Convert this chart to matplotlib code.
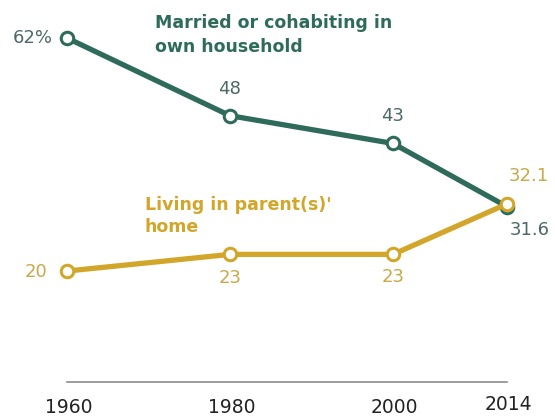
import matplotlib.pyplot as plt

years = [1960, 1980, 2000, 2014]
married = [62, 48, 43, 31.6]
parents = [20, 23, 23, 32.1]
year_labels = ['1960', '1980', '2000', '2014']

verde = '#2f6b5b'
verde_txt = '#4c6966'
ouro = '#d2a62a'
ouro_txt = '#c8a849'


def rotulo(v, primeiro=False):
    txt = f'{v:g}'
    return txt + '%' if primeiro else txt


fig = plt.figure(figsize=(5.55, 4.19), dpi=100)
ax = fig.add_axes([67 / 555, 37 / 419, 440 / 555, 344 / 419])
ax.set_xlim(1960, 2014)
ax.set_ylim(0, 62)
ax.axis('off')

# linha de base
ax.plot([years[0], years[-1]], [0, 0], color='#8c8c8c', lw=1.2, clip_on=False)

for serie, cor in [(married, verde), (parents, ouro)]:
    ax.plot(years, serie, color=cor, lw=3.8, marker='o', ms=9,
            mfc='white', mec=cor, mew=2.2, clip_on=False, zorder=3)

# valores da serie verde
offs_verde = [(-10, 0, 'right', 'center'), (0, 19, 'center', 'center'),
              (0, 20, 'center', 'center'), (16, -17, 'center', 'center')]
for i, (x, y) in enumerate(zip(years, married)):
    dx, dy, ha, va = offs_verde[i]
    ax.annotate(rotulo(y, i == 0), (x, y), xytext=(dx, dy), textcoords='offset points',
                ha=ha, va=va, fontsize=13, color=verde_txt)

# valores da serie dourada
offs_ouro = [(-14, -1, 'right', 'center'), (0, -17, 'center', 'center'),
             (0, -16, 'center', 'center'), (16, 20, 'center', 'center')]
for i, (x, y) in enumerate(zip(years, parents)):
    dx, dy, ha, va = offs_ouro[i]
    ax.annotate(rotulo(y), (x, y), xytext=(dx, dy), textcoords='offset points',
                ha=ha, va=va, fontsize=13, color=ouro_txt)

# anos no eixo x
for x, lab in zip(years, year_labels):
    dy = 2 if lab == '2014' else 0
    ax.annotate(lab, (x, 0), xytext=(1, -18 + dy), textcoords='offset points',
                ha='center', va='center', fontsize=13.5, color='#222222')

fig.text(155 / 555, 1 - 35 / 419, 'Married or cohabiting in\nown household',
         fontsize=12.5, fontweight='bold', color=verde, ha='left', va='center',
         linespacing=1.4)
fig.text(145 / 555, 1 - 216 / 419, "Living in parent(s)'\nhome",
         fontsize=12.5, fontweight='bold', color=ouro, ha='left', va='center',
         linespacing=1.35)

plt.savefig('out.png', dpi=100)
